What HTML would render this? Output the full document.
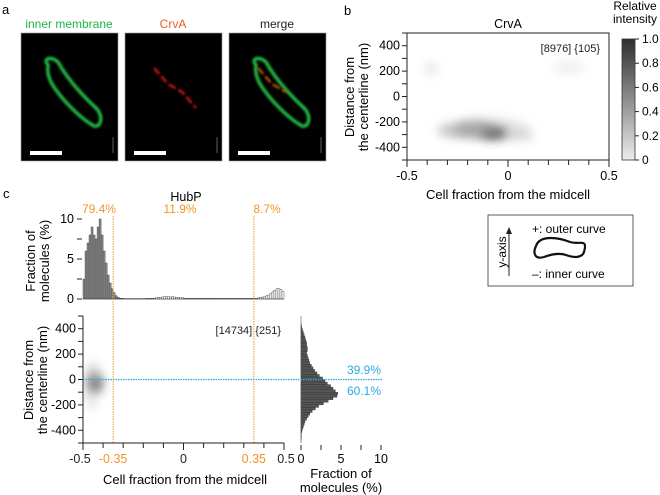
<!DOCTYPE html>
<html><head><meta charset="utf-8">
<style>
html,body{margin:0;padding:0;background:#fff;}
svg{display:block;font-family:"Liberation Sans",Arial,sans-serif;}
</style></head>
<body>
<svg id="fig" width="660" height="495" viewBox="0 0 660 495" xmlns="http://www.w3.org/2000/svg">
<defs>
  <filter id="blur3" x="-80%" y="-80%" width="260%" height="260%"><feGaussianBlur stdDeviation="5"/></filter>
  <filter id="blur1" x="-50%" y="-50%" width="200%" height="200%"><feGaussianBlur stdDeviation="1"/></filter>
  <linearGradient id="cbar" x1="0" y1="1" x2="0" y2="0">
    <stop offset="0" stop-color="#ececec"/><stop offset="1" stop-color="#2e2e2e"/>
  </linearGradient>
  <clipPath id="clipB"><rect x="407" y="33" width="202" height="127"/></clipPath>
  <clipPath id="clipC"><rect x="83" y="316" width="201" height="127"/></clipPath>
</defs>

<!-- Panel a -->
<text x="2" y="14" font-size="13">a</text>
<text x="69" y="28" font-size="12" fill="#1db34a" text-anchor="middle">inner membrane</text>
<text x="173" y="28" font-size="12" fill="#ef5a2a" text-anchor="middle">CrvA</text>
<text x="277" y="28" font-size="12" fill="#222" text-anchor="middle">merge</text>

<g>
  <rect x="21" y="33" width="97" height="128" fill="#000" stroke="#999" stroke-width="0.6"/>
  <path d="M48 65 C42 58,52 56,58 62 C68 80,82 95,96 108 C104 116,101 128,94 126 C80 118,62 100,52 84 C48 77,47 71,48 65 Z" fill="none" stroke="#20b040" stroke-width="3.6" filter="url(#blur1)"/>
  <rect x="30" y="151" width="32" height="4" fill="#fff"/>
  <line x1="113" y1="137" x2="113" y2="153" stroke="#888" stroke-width="0.7"/>
</g>
<g>
  <rect x="125" y="33" width="97" height="128" fill="#000" stroke="#999" stroke-width="0.6"/>
  <path d="M154 68 L168 84 L182 92 L196 108" fill="none" stroke="#c01818" stroke-width="2.6" stroke-dasharray="8,3" filter="url(#blur1)"/>
  <rect x="134" y="151" width="32" height="4" fill="#fff"/>
  <line x1="217" y1="137" x2="217" y2="153" stroke="#888" stroke-width="0.7"/>
</g>
<g>
  <rect x="229" y="33" width="97" height="128" fill="#000" stroke="#999" stroke-width="0.6"/>
  <path d="M256 65 C250 58,260 56,266 62 C276 80,290 95,304 108 C312 116,309 128,302 126 C288 118,270 100,260 84 C256 77,255 71,256 65 Z" fill="none" stroke="#20b040" stroke-width="3.6" filter="url(#blur1)"/>
  <path d="M258 68 L272 84 L286 92" fill="none" stroke="#c85818" stroke-width="2.2" stroke-dasharray="8,3" filter="url(#blur1)"/>
  <rect x="238" y="151" width="32" height="4" fill="#fff"/>
  <line x1="321" y1="137" x2="321" y2="153" stroke="#888" stroke-width="0.7"/>
</g>

<!-- Panel b -->
<text x="344" y="15" font-size="13">b</text>
<text x="508" y="28" font-size="12.5" text-anchor="middle">CrvA</text>
<g id="heatB" clip-path="url(#clipB)"></g>
<rect x="407" y="33" width="202" height="127" fill="none" stroke="#222" stroke-width="1"/>
<g id="axesB"></g>
<text x="600" y="52" font-size="11" text-anchor="end" fill="#222">[8976] {105}</text>
<text transform="translate(354,97) rotate(-90)" font-size="13" text-anchor="middle"><tspan x="0" dy="0">Distance from</tspan><tspan x="0" dy="14">the centerline (nm)</tspan></text>
<text x="508" y="199" font-size="13" text-anchor="middle">Cell fraction from the midcell</text>

<g>
  <text x="635" y="10" font-size="12" text-anchor="middle">Relative</text>
  <text x="635" y="23" font-size="12" text-anchor="middle">intensity</text>
  <rect x="622" y="39" width="13" height="121" fill="url(#cbar)" stroke="#333" stroke-width="0.8"/>
  <g id="cbarTicks"></g>
</g>

<g>
  <rect x="488" y="215" width="145" height="71" fill="#fff" stroke="#333" stroke-width="0.8"/>
  <line x1="509" y1="276" x2="509" y2="232" stroke="#222" stroke-width="1"/>
  <path d="M506 234 L509 227 L512 234 Z" fill="#222"/>
  <text transform="translate(506,252) rotate(-90)" font-size="12" text-anchor="middle">y-axis</text>
  <text x="532" y="233" font-size="12">+: outer curve</text>
  <text x="532" y="278" font-size="12">–: inner curve</text>
  <path d="M536 246 C540 234,560 238,570 242 C580 245,588 238,584 252 C582 258,574 258,566 255 C560 253,552 254,544 257 C534 260,533 252,536 246 Z" fill="none" stroke="#111" stroke-width="2.2"/>
</g>

<!-- Panel c -->
<text x="3" y="198" font-size="13">c</text>
<text x="186" y="201" font-size="12.5" text-anchor="middle">HubP</text>
<text x="99" y="213" font-size="12" fill="#f0962a" text-anchor="middle">79.4%</text>
<text x="180" y="213" font-size="12" fill="#f0962a" text-anchor="middle">11.9%</text>
<text x="267" y="213" font-size="12" fill="#f0962a" text-anchor="middle">8.7%</text>
<g id="histTop"></g>
<text transform="translate(35,261) rotate(-90)" font-size="13" text-anchor="middle"><tspan x="0" dy="0">Fraction of</tspan><tspan x="0" dy="14">molecules (%)</tspan></text>

<g id="heatC" clip-path="url(#clipC)"></g>
<line x1="83" y1="316" x2="83" y2="443" stroke="#222" stroke-width="1"/>
<line x1="83" y1="443" x2="284" y2="443" stroke="#222" stroke-width="1"/>
<g id="axesC"></g>
<text x="281" y="334" font-size="11" text-anchor="end" fill="#222">[14734] {251}</text>
<text transform="translate(33,380) rotate(-90)" font-size="13" text-anchor="middle"><tspan x="0" dy="0">Distance from</tspan><tspan x="0" dy="14">the centerline (nm)</tspan></text>
<text x="185" y="484" font-size="13" text-anchor="middle">Cell fraction from the midcell</text>

<g id="histRight"></g>
<text x="341" y="478" font-size="13" text-anchor="middle">Fraction of</text>
<text x="341" y="492" font-size="13" text-anchor="middle">molecules (%)</text>
<text x="381" y="374" font-size="12" fill="#29abe2" text-anchor="end">39.9%</text>
<text x="381" y="395" font-size="12" fill="#29abe2" text-anchor="end">60.1%</text>
<g id="guides"></g>
</svg>

<script>
// ---------- data ----------
const xTicks = [-0.5,-0.4,-0.3,-0.2,-0.1,0,0.1,0.2,0.3,0.4,0.5];
const xTickLabelsB = ["-0.5","","","","","0","","","","","0.5"];
const yTicks = [-500,-400,-300,-200,-100,0,100,200,300,400,500];
const yTickLabels = ["","-400","","-200","","0","","200","","400",""];
const cbarTicks = [0,0.2,0.4,0.6,0.8,1.0];
const cbarLabels = ["0","0.2","0.4","0.6","0.8","1.0"];
// heatmap blobs: [x, y(nm), sx, sy(nm), intensity]
const blobsB_x = [-0.07,-0.17,-0.28,-0.38,0.06,0.3,-0.1];
const blobsB_y = [-285,-260,-270,220,-300,230,-250];
const blobsB_sx = [0.07,0.09,0.07,0.035,0.07,0.08,0.2];
const blobsB_sy = [50,60,50,45,45,45,90];
const blobsB_v = [0.8,0.5,0.3,0.1,0.18,0.04,0.08];
const blobsC_x = [-0.44,-0.45,-0.46];
const blobsC_y = [-30,40,-150];
const blobsC_sx = [0.04,0.03,0.03];
const blobsC_sy = [80,100,90];
const blobsC_v = [0.6,0.2,0.1];
// top histogram (% per 0.01 bin, from -0.5)
const topHist = [2.5,6,7,8,9,8,7.5,9,10,8,6,4.5,3,2,1.3,0.8,0.4,0.2,0.1,0.1,
 0.05,0.05,0.05,0.05,0.05,0.05,0.05,0.05,0.05,0.05,0.05,0.1,0.1,0.1,0.1,0.1,0.15,0.2,0.2,0.25,
 0.3,0.3,0.3,0.25,0.3,0.25,0.2,0.2,0.15,0.15,0.1,0.1,0.1,0.1,0.1,0.1,0.1,0.1,0.1,0.1,
 0.1,0.1,0.1,0.1,0.1,0.1,0.1,0.1,0.1,0.1,0.1,0.1,0.1,0.1,0.1,0.1,0.1,0.1,0.1,0.1,
 0.1,0.1,0.1,0.1,0.1,0.1,0.1,0.15,0.2,0.25,0.3,0.4,0.5,0.7,0.9,1.1,1.3,1.3,1.2,0.9];
const topHistTicks = [0,2.5,5,7.5,10];
const topHistLabels = ["0","","5","","10"];
// right histogram (% per 20nm bin, from 500 down to -500)
const rightHist = [0,0,0,0.05,0.1,0.2,0.3,0.4,0.5,0.6,0.7,0.7,0.8,0.8,0.7,0.8,0.9,1.0,1.1,1.3,
 1.5,1.7,2.0,2.3,2.7,3.0,3.3,3.7,4.0,4.3,4.6,4.5,4.0,3.4,2.8,2.2,1.8,1.4,1.1,0.9,
 0.7,0.5,0.4,0.3,0.2,0.1,0.05,0.05,0.02,0];
const rightTicks = [0,2.5,5,7.5,10];
const rightLabels = ["0","","5","","10"];
const cuts = [-0.35,0.35];

// ---------- helpers ----------
const NS="http://www.w3.org/2000/svg";
function mk(tag,attrs,parent){const e=document.createElementNS(NS,tag);for(const k in attrs)e.setAttribute(k,attrs[k]);parent.appendChild(e);return e;}
const bx = v=>407+(v+0.5)*202, by = v=>96.5-v*0.127;
const cx = v=>83+(v+0.5)*201, cy = v=>379.5-v*0.127;
const hy = v=>299-v*8;
const rx = v=>301+v*8;
function shade(v){const g=Math.round(200-v*170);return `rgb(${g},${g},${g})`;}

// heatmaps
function drawBlobs(g,X,Y,SX,SY,V,fx,fy,sc){
  for(let i=0;i<X.length;i++){
    const e=mk('ellipse',{cx:fx(X[i]),cy:fy(Y[i]),rx:SX[i]*sc,ry:SY[i]*0.127,fill:shade(V[i]),opacity:Math.min(1,V[i]+0.25),filter:'url(#blur3)'},g);
    
    
  }
}
drawBlobs(document.getElementById('heatB'),blobsB_x,blobsB_y,blobsB_sx,blobsB_sy,blobsB_v,bx,by,202);
drawBlobs(document.getElementById('heatC'),blobsC_x,blobsC_y,blobsC_sx,blobsC_sy,blobsC_v,cx,cy,201);

// axes B
const aB=document.getElementById('axesB');
xTicks.forEach((t,i)=>{
  const x=bx(t);
  const l=mk('line',{x1:x,y1:160,x2:x,y2:i%5===0?167:165,stroke:'#222','stroke-width':1},aB);
  
  if(xTickLabelsB[i]){const tx=mk('text',{x:x,y:180,'font-size':12.5,'text-anchor':'middle'},aB);tx.textContent=xTickLabelsB[i];
  }
});
yTicks.forEach((t,i)=>{
  const y=by(t);
  const l=mk('line',{x1:402,y1:y,x2:407,y2:y,stroke:'#222','stroke-width':1},aB);
  
  if(yTickLabels[i]){const tx=mk('text',{x:400,y:y+4,'font-size':12.5,'text-anchor':'end'},aB);tx.textContent=yTickLabels[i];
  }
});
// colorbar ticks
const cb=document.getElementById('cbarTicks');
cbarTicks.forEach((t,i)=>{
  const y=160-t*121;
  mk('line',{x1:635,y1:y,x2:639,y2:y,stroke:'#222','stroke-width':1},cb);
  const tx=mk('text',{x:642,y:y+4,'font-size':12},cb);tx.textContent=cbarLabels[i];
  
});

// top histogram
const ht=document.getElementById('histTop');
topHist.forEach((v,i)=>{
  const x0=cx(-0.5+i*0.01), x1=cx(-0.5+(i+1)*0.01);
  const r=mk('rect',{x:x0,y:hy(v),width:x1-x0,height:299-hy(v),fill:i<20?'#8a8a8a':'#fff',stroke:'#333','stroke-width':0.4},ht);
  
});
mk('line',{x1:83,y1:299,x2:284,y2:299,stroke:'#333','stroke-width':0.6},ht);
topHistTicks.forEach((t,i)=>{
  const y=hy(t);
  mk('line',{x1:77,y1:y,x2:82,y2:y,stroke:'#222','stroke-width':1},ht);
  if(topHistLabels[i]){const tx=mk('text',{x:74,y:y+4,'font-size':12.5,'text-anchor':'end'},ht);tx.textContent=topHistLabels[i];
  }
});

// axes C
const aC=document.getElementById('axesC');
xTicks.forEach((t,i)=>{
  const x=cx(t);
  mk('line',{x1:x,y1:443,x2:x,y2:i%5===0?450:448,stroke:'#222','stroke-width':1},aC);
});
const xLabC=[[-0.5,"-0.5","#222"],[-0.35,"-0.35","#f0962a"],[0,"0","#222"],[0.35,"0.35","#f0962a"],[0.5,"0.5","#222"]];
xLabC.forEach(d=>{const tx=mk('text',{x:cx(d[0])+(d[0]===-0.5?-3:d[0]===0.5?2:0),y:463,'font-size':12.5,'text-anchor':'middle',fill:d[2]},aC);tx.textContent=d[1];
  });
yTicks.forEach((t,i)=>{
  const y=cy(t);
  mk('line',{x1:78,y1:y,x2:83,y2:y,stroke:'#222','stroke-width':1},aC);
  if(yTickLabels[i]){const tx=mk('text',{x:76,y:y+4,'font-size':12.5,'text-anchor':'end'},aC);tx.textContent=yTickLabels[i];
  }
});

// right histogram
const hr=document.getElementById('histRight');
rightHist.forEach((v,i)=>{
  const y0=cy(500-i*20), y1=cy(500-(i+1)*20);
  const r=mk('rect',{x:301,y:y0,width:rx(v)-301,height:y1-y0,fill:'#555',stroke:'#222','stroke-width':0.3},hr);
  
});
mk('line',{x1:301,y1:316,x2:301,y2:443,stroke:'#555','stroke-width':0.6},hr);
rightTicks.forEach((t,i)=>{
  const x=rx(t);
  mk('line',{x1:x,y1:445,x2:x,y2:450,stroke:'#222','stroke-width':1},hr);
  if(rightLabels[i]){const tx=mk('text',{x:x,y:463,'font-size':12.5,'text-anchor':'middle'},hr);tx.textContent=rightLabels[i];
  }
});

// guides
const gd=document.getElementById('guides');
cuts.forEach(c=>{
  const l=mk('line',{x1:cx(c),y1:216,x2:cx(c),y2:443,stroke:'#f0962a','stroke-width':1,'stroke-dasharray':'1.5,1'},gd);
  
});
const bl=mk('line',{x1:83,y1:cy(0),x2:382,y2:cy(0),stroke:'#29abe2','stroke-width':1.2,'stroke-dasharray':'1.5,1'},gd);


</script>
</body></html>
